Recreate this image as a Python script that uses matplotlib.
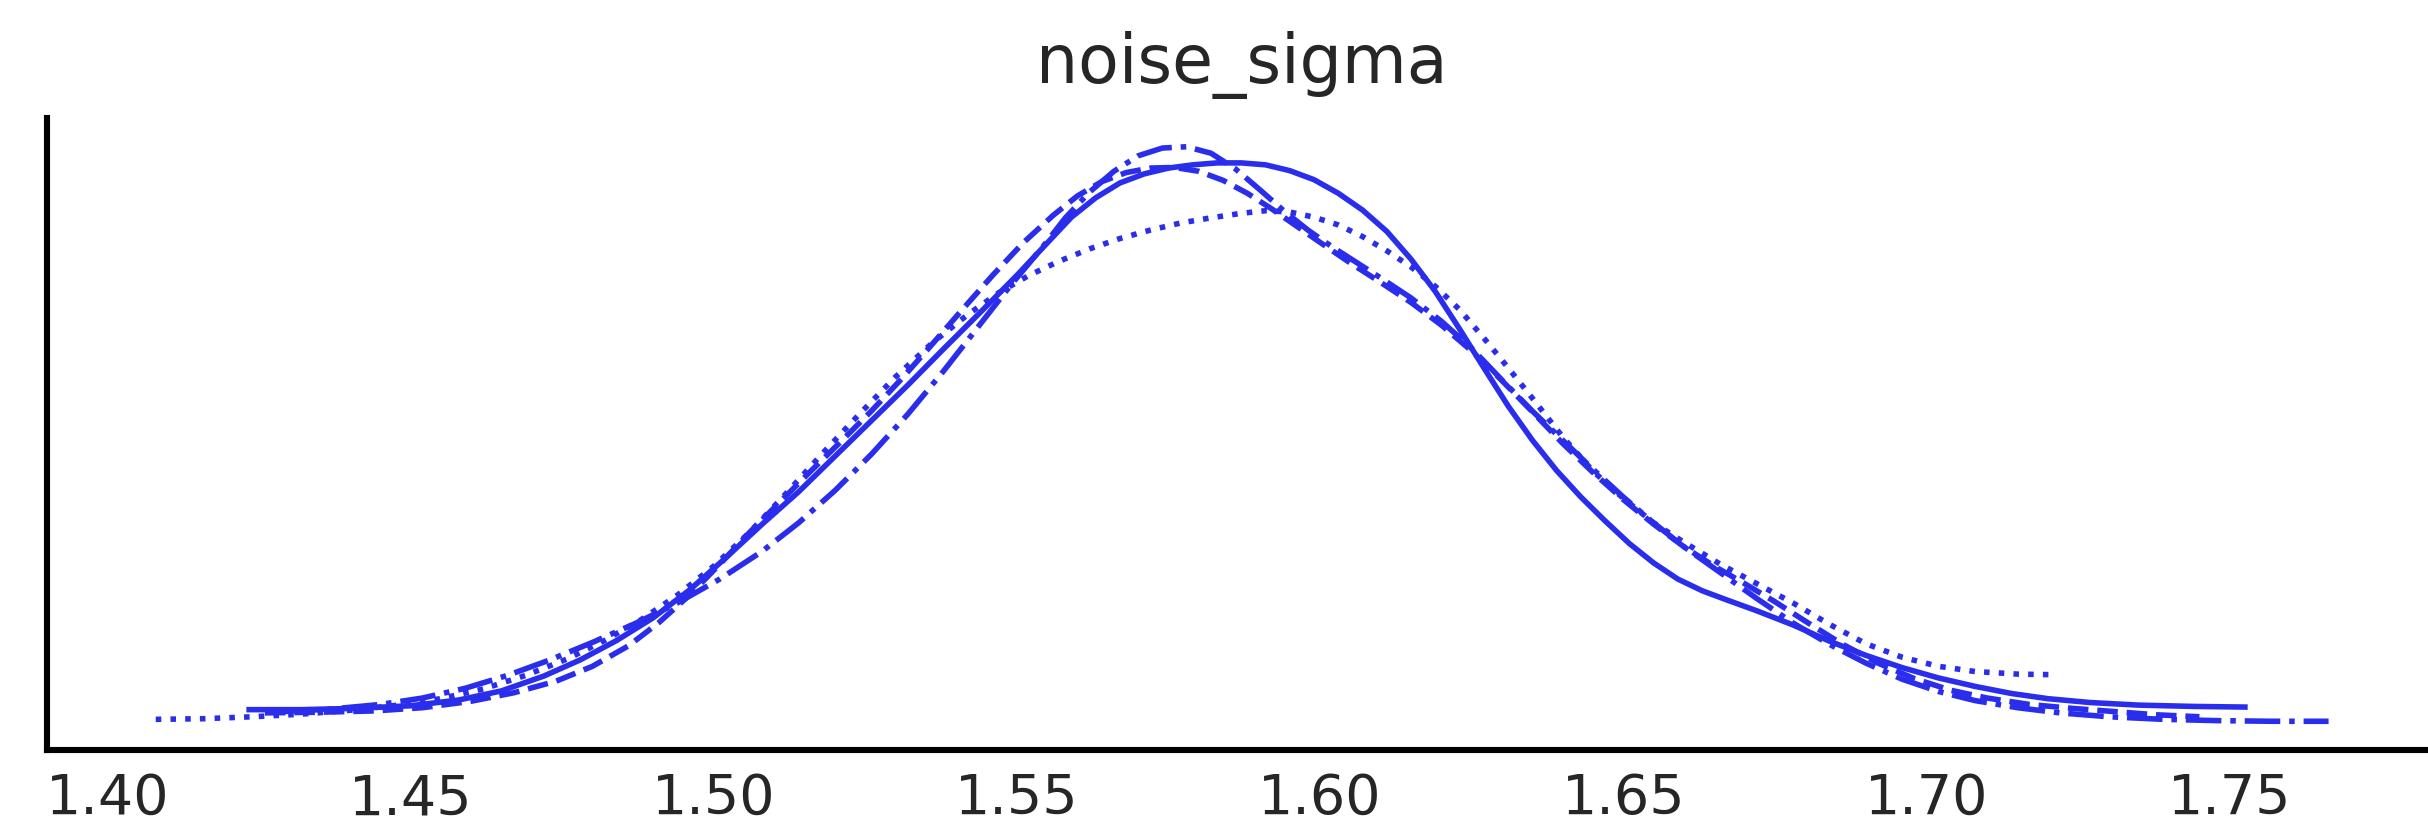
import matplotlib
matplotlib.use("Agg")
import matplotlib.pyplot as plt

# posterior density of noise_sigma, one curve per chain
chain0_x = [1.4234, 1.432, 1.441, 1.450, 1.458, 1.465, 1.472, 1.478, 1.484, 1.490,
            1.496, 1.502, 1.508, 1.514, 1.520, 1.526, 1.532, 1.538, 1.544, 1.550,
            1.555, 1.559, 1.563, 1.567, 1.571, 1.575, 1.579, 1.583, 1.587, 1.591,
            1.595, 1.599, 1.603, 1.607, 1.611, 1.615, 1.619, 1.623, 1.627, 1.631,
            1.635, 1.639, 1.643, 1.647, 1.651, 1.655, 1.659, 1.663, 1.667, 1.672,
            1.678, 1.684, 1.690, 1.696, 1.702, 1.708, 1.714, 1.720, 1.727, 1.735,
            1.744, 1.7525]
chain0_y = [0.23, 0.23, 0.25, 0.29, 0.38, 0.52, 0.75, 1.00, 1.30, 1.65,
            2.08, 2.58, 3.10, 3.60, 4.15, 4.70, 5.25, 5.82, 6.38, 6.95,
            7.45, 7.85, 8.15, 8.38, 8.52, 8.61, 8.66, 8.69, 8.69, 8.66,
            8.57, 8.43, 8.22, 7.96, 7.63, 7.20, 6.70, 6.12, 5.52, 4.93,
            4.40, 3.93, 3.52, 3.15, 2.80, 2.50, 2.25, 2.07, 1.93, 1.76,
            1.54, 1.29, 1.07, 0.88, 0.72, 0.59, 0.48, 0.40, 0.34, 0.30,
            0.28, 0.27]

chain1_x = [1.426, 1.435, 1.444, 1.452, 1.460, 1.467, 1.474, 1.480, 1.486, 1.491,
            1.496, 1.501, 1.506, 1.511, 1.516, 1.521, 1.526, 1.531, 1.536, 1.541,
            1.546, 1.551, 1.556, 1.560, 1.564, 1.568, 1.572, 1.576, 1.580, 1.584,
            1.588, 1.592, 1.596, 1.600, 1.605, 1.610, 1.615, 1.620, 1.625, 1.630,
            1.635, 1.640, 1.645, 1.650, 1.655, 1.660, 1.665, 1.670, 1.675, 1.680,
            1.686, 1.692, 1.698, 1.704, 1.710, 1.717, 1.724, 1.731, 1.738, 1.745]
chain1_y = [0.18, 0.19, 0.21, 0.26, 0.36, 0.49, 0.67, 0.90, 1.22, 1.58,
            2.00, 2.48, 2.98, 3.45, 3.92, 4.38, 4.85, 5.35, 5.88, 6.42,
            6.95, 7.45, 7.88, 8.18, 8.40, 8.54, 8.61, 8.62, 8.56, 8.42,
            8.22, 7.98, 7.72, 7.46, 7.14, 6.84, 6.53, 6.18, 5.78, 5.32,
            4.84, 4.35, 3.90, 3.48, 3.10, 2.75, 2.45, 2.18, 1.90, 1.60,
            1.25, 0.95, 0.71, 0.53, 0.41, 0.31, 0.25, 0.20, 0.15, 0.12]

chain2_x = [1.408, 1.416, 1.424, 1.432, 1.440, 1.448, 1.455, 1.462, 1.469, 1.476,
            1.482, 1.488, 1.494, 1.500, 1.506, 1.512, 1.518, 1.524, 1.530, 1.536,
            1.542, 1.547, 1.552, 1.557, 1.562, 1.567, 1.572, 1.577, 1.582, 1.587,
            1.591, 1.595, 1.599, 1.603, 1.607, 1.611, 1.615, 1.619, 1.623, 1.627,
            1.631, 1.635, 1.640, 1.645, 1.650, 1.655, 1.660, 1.666, 1.672, 1.678,
            1.684, 1.690, 1.696, 1.702, 1.708, 1.715, 1.7215]
chain2_y = [0.08, 0.09, 0.12, 0.16, 0.22, 0.30, 0.40, 0.55, 0.76, 1.02,
            1.30, 1.62, 2.00, 2.45, 2.98, 3.58, 4.20, 4.80, 5.38, 5.90,
            6.35, 6.68, 6.95, 7.17, 7.36, 7.52, 7.65, 7.76, 7.84, 7.91,
            7.95, 7.93, 7.85, 7.73, 7.55, 7.33, 7.08, 6.78, 6.42, 5.98,
            5.52, 5.05, 4.45, 3.92, 3.50, 3.12, 2.82, 2.48, 2.18, 1.88,
            1.55, 1.25, 1.04, 0.90, 0.82, 0.78, 0.77]

chain3_x = [1.429, 1.437, 1.445, 1.452, 1.459, 1.466, 1.473, 1.480, 1.487, 1.494,
            1.501, 1.508, 1.514, 1.520, 1.526, 1.532, 1.538, 1.544, 1.549, 1.554,
            1.558, 1.562, 1.566, 1.570, 1.574, 1.578, 1.582, 1.586, 1.590, 1.594,
            1.598, 1.602, 1.606, 1.610, 1.615, 1.620, 1.625, 1.630, 1.635, 1.640,
            1.645, 1.650, 1.655, 1.660, 1.666, 1.672, 1.678, 1.684, 1.690, 1.696,
            1.702, 1.708, 1.715, 1.722, 1.730, 1.739, 1.748, 1.757, 1.7663]
chain3_y = [0.20, 0.24, 0.31, 0.41, 0.56, 0.76, 1.00, 1.27, 1.56, 1.88,
            2.25, 2.68, 3.12, 3.62, 4.18, 4.80, 5.48, 6.20, 6.80, 7.36,
            7.84, 8.24, 8.56, 8.80, 8.92, 8.94, 8.84, 8.60, 8.28, 7.95,
            7.65, 7.39, 7.15, 6.91, 6.60, 6.24, 5.82, 5.33, 4.85, 4.40,
            3.95, 3.52, 3.12, 2.75, 2.35, 1.95, 1.57, 1.24, 0.95, 0.70,
            0.51, 0.37, 0.26, 0.18, 0.12, 0.08, 0.06, 0.05, 0.05]

chains = [(chain0_x, chain0_y), (chain1_x, chain1_y), (chain2_x, chain2_y), (chain3_x, chain3_y)]
line_styles = ["-", "--", ":", "-."]
color = "#2a2eec"
text_color = "#262626"

fig = plt.figure(figsize=(12.14, 4.135), dpi=200)
ax = fig.add_axes([0.0194, 0.0931, 0.9844, 0.7642])

for (xs, ys), ls in zip(chains, line_styles):
    ax.plot(xs, ys, color=color, linestyle=ls, linewidth=2.0)

ax.set_title("noise_sigma", fontsize=24, color=text_color, pad=12.6)
ax.set_xticks([1.40, 1.45, 1.50, 1.55, 1.60, 1.65, 1.70, 1.75])
ax.set_xticklabels(["1.40", "1.45", "1.50", "1.55", "1.60", "1.65", "1.70", "1.75"])
ax.set_yticks([])
ax.tick_params(axis="x", length=0, pad=8, labelsize=20, labelcolor=text_color)

for side in ["top", "right"]:
    ax.spines[side].set_visible(False)
for side in ["left", "bottom"]:
    ax.spines[side].set_linewidth(2.2)
    ax.spines[side].set_color("black")

fig.savefig("out.png", dpi=200, facecolor="white")
